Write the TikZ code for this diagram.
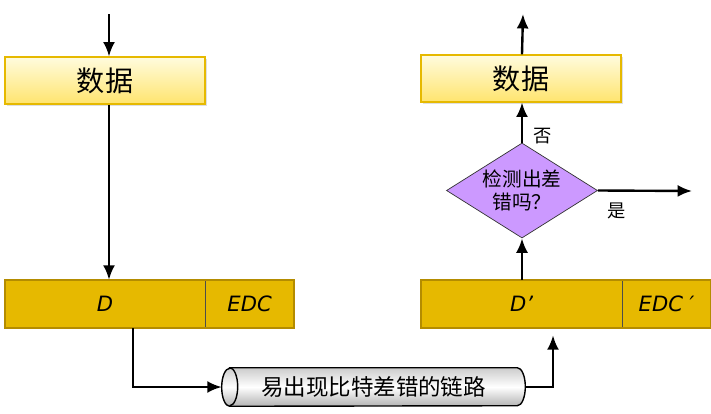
\documentclass[tikz,border=0pt]{standalone}
\usepackage{fontspec}
\setmainfont{DejaVu Sans}
\newfontfamily\cjk{Noto Sans CJK SC}
\usetikzlibrary{arrows.meta,shapes.geometric,shadows,positioning}

\definecolor{bargold}{RGB}{230,185,0}
\definecolor{barline}{RGB}{180,140,0}
\definecolor{boxtop}{RGB}{255,252,222}
\definecolor{boxbot}{RGB}{255,228,110}
\definecolor{boxline}{RGB}{230,185,0}
\definecolor{checkfill}{RGB}{204,153,255}

\tikzset{
  databox/.style={rectangle,draw=boxline,line width=0.8pt,top color=boxtop,bottom color=boxbot,
    minimum width=5cm,minimum height=1.175cm,inner sep=0pt,font=\cjk\fontsize{20}{24}\selectfont,
    drop shadow={opacity=0.25,shadow xshift=1.2pt,shadow yshift=-1.2pt}},
  field/.style={rectangle,draw=black!70,line width=0.4pt,fill=bargold,minimum height=1.2cm,
    inner sep=0pt,font=\itshape\fontsize{15}{18}\selectfont},
  frame/.style={draw=barline,line width=1.6pt},
  check/.style={diamond,aspect=1.6,draw=black!80,line width=0.5pt,fill=checkfill,
    minimum width=3.775cm,minimum height=2.375cm,inner sep=0pt,align=center,
    font=\cjk\fontsize{14}{16}\selectfont},
  linkbox/.style={rectangle,minimum width=7.175cm,minimum height=0.95cm,inner sep=0pt,
    font=\cjk\fontsize{16}{18}\selectfont},
  tube/.style={draw=black,line width=1pt,top color=gray!40,bottom color=gray!60,middle color=white},
  flow/.style={line width=1.7pt,-{Latex[length=3.6mm,width=3mm]}},
  tag/.style={font=\cjk\fontsize{13}{15}\selectfont,inner sep=0pt}
}

\begin{document}
\begin{tikzpicture}[x=0.025cm,y=-0.025cm]
    \useasboundingbox (0,0) rectangle (711,414);

    % sender side
    \node[databox] (datL) at (105,80.5) {数据};
    \node[field,minimum width=5cm] (dL) at (105,304) {D};
    \node[field,minimum width=2.2cm,right=0pt of dL] (edcL) {EDC};
    \draw[frame] (dL.north west) rectangle (edcL.south east);

    % the noisy link, a lying tube
    \node[linkbox] (chan) at (373.5,387) {};
    \shade[tube] (chan.north west) -- (chan.north east)
      arc[start angle=90,end angle=-90,x radius=0.2cm,y radius=0.475cm]
      -- (chan.south west)
      arc[start angle=-90,end angle=-270,x radius=0.2cm,y radius=0.475cm] -- cycle;
    \draw[line width=1pt] (chan.north west)
      arc[start angle=90,end angle=-90,x radius=0.2cm,y radius=0.475cm];
    \node[linkbox] at (chan.center) {易出现比特差错的链路};

    % receiver side
    \node[field,minimum width=5.025cm] (dR) at (521.5,304) {D'};
    \node[field,minimum width=2.2cm,right=0pt of dR] (edcR) {EDC ′};
    \draw[frame] (dR.north west) rectangle (edcR.south east);
    \node[check] (chk) at (522,190.5) {检测出差\\错吗？};
    \node[databox] (datR) at (521,78.5) {数据};

    % free ends
    \coordinate (inL) at (109,14);
    \coordinate (outR) at (523,14);
    \coordinate (err) at (692,191);

    % connectors
    \draw[flow] (inL) -- (inL |- datL.north);
    \draw[flow] (datL.south -| inL) -- (dL.north -| inL);
    \draw[flow] (dL.south -| 133,0) |- ([xshift=-0.2cm]chan.west);
    \draw[flow,shorten >=5pt] ([xshift=0.2cm]chan.east) -| (dR.south -| 553,0);
    \draw[flow] (dR.north -| chk.south) -- (chk.south);
    \draw[flow] (chk.north) -- (datR.south -| chk.north)
      node[tag,pos=0,anchor=south west,xshift=7pt,yshift=-2pt] {否};
    \draw[flow] (chk.east) -- (err)
      node[tag,pos=0,anchor=north west,xshift=6pt,yshift=-8pt] {是};
    \draw[flow] (datR.north -| chk.north) -- (outR);
\end{tikzpicture}
\end{document}
